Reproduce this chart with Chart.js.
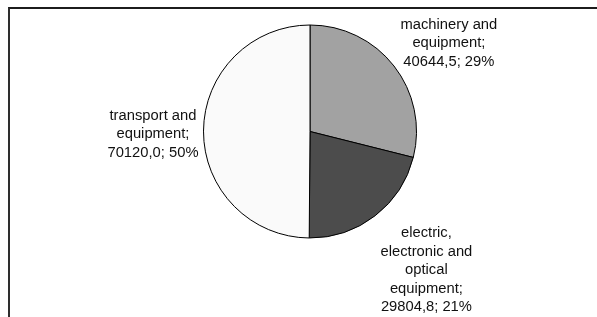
<!DOCTYPE html>
<html>
<head>
<meta charset="utf-8">
<script src="https://cdn.jsdelivr.net/npm/chart.js@4/dist/chart.umd.min.js"></script>
<style>
  html, body { margin: 0; padding: 0; background: #ffffff; }
  #wrap { position: relative; width: 597px; height: 317px; overflow: hidden; background: #ffffff; }
  #frame { position: absolute; left: 8px; top: 7px; width: 600px; height: 320px;
           border-top: 2px solid #1c1c1c; border-left: 2px solid #2e2e2e; box-sizing: border-box; }
  canvas { position: absolute; left: 0; top: 0; }
</style>
</head>
<body>
<div id="wrap">
  <div id="frame"></div>
  <canvas id="c" width="597" height="317"></canvas>
</div>
<script>
// ---- data ----
const categories = ["machinery and equipment", "electric, electronic and optical equipment", "transport and equipment"];
const values = [40644.5, 29804.8, 70120.0];
const sliceColors = ["#a2a2a2", "#4c4c4c", "#fafafa"];

const FONT = '14.75px "Liberation Sans", Arial, sans-serif';
const LINE_H = 18.5;
const WRAP_W = 100;

function wrapText(ctx, text, maxW) {
  const words = text.split(' ');
  const lines = [];
  let cur = '';
  for (const w of words) {
    const test = cur ? cur + ' ' + w : w;
    if (cur && ctx.measureText(test).width > maxW) {
      lines.push(cur);
      cur = w;
    } else {
      cur = test;
    }
  }
  if (cur) lines.push(cur);
  return lines;
}

const outsideLabels = {
  id: 'outsideLabels',
  afterDatasetsDraw(chart) {
    const ctx = chart.ctx;
    const meta = chart.getDatasetMeta(0);
    const data = chart.data.datasets[0].data;
    const total = data.reduce((a, b) => a + b, 0);
    ctx.save();
    ctx.font = FONT;
    ctx.fillStyle = '#111111';
    ctx.textBaseline = 'middle';
    ctx.textAlign = 'center';
    meta.data.forEach((arc, i) => {
      const p = arc.getProps(['x', 'y', 'startAngle', 'endAngle', 'outerRadius'], true);
      const mid = (p.startAngle + p.endAngle) / 2;
      const dx = Math.cos(mid), dy = Math.sin(mid);
      const r = p.outerRadius + 7;
      const ax = p.x + dx * r, ay = p.y + dy * r;
      const valStr = data[i].toFixed(1).replace('.', ',');
      const pct = Math.round(data[i] / total * 100) + '%';
      const text = chart.data.labels[i] + '; ' + valStr + '; ' + pct;
      const lines = wrapText(ctx, text, WRAP_W);
      const w = Math.max(...lines.map(l => ctx.measureText(l).width));
      const h = lines.length * LINE_H;
      let left;
      if (dx > 0.3) left = ax + 1;
      else if (dx < -0.3) left = ax - w + 2;
      else left = ax - w / 2;
      const top = ay - h / 2 + dy * (h / 2) * 1.25 + 3;
      const cx = left + w / 2;
      lines.forEach((l, k) => ctx.fillText(l, cx, top + (k + 0.5) * LINE_H));
    });
    ctx.restore();
  }
};

new Chart(document.getElementById('c'), {
  type: 'pie',
  data: {
    labels: categories,
    datasets: [{
      data: values,
      backgroundColor: sliceColors,
      borderColor: '#000000',
      borderWidth: 1,
      hoverOffset: 0
    }]
  },
  options: {
    responsive: false,
    animation: false,
    radius: 106.5,
    layout: { padding: { left: 23, right: 0, top: 0, bottom: 54 } },
    plugins: {
      legend: { display: false },
      tooltip: { enabled: false }
    }
  },
  plugins: [outsideLabels]
});
</script>
</body>
</html>
